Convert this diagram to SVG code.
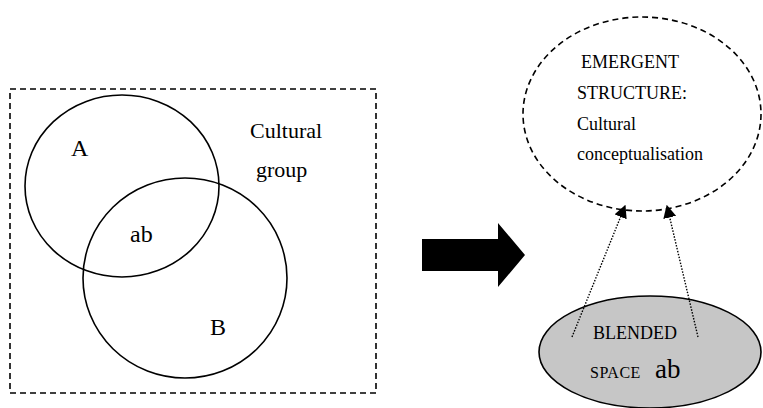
<svg xmlns="http://www.w3.org/2000/svg" width="763" height="408" viewBox="0 0 763 408" font-family="'Liberation Serif', 'Times New Roman', 'DejaVu Serif', serif">
<defs>
<style>
text{font-family:'Liberation Serif','Times New Roman','DejaVu Serif',serif;fill:#000}
.solid{fill:none;stroke:#000;stroke-width:1.6}
.dash{fill:none;stroke:#000;stroke-width:1.6;stroke-dasharray:6 4}
.dot{fill:none;stroke:#000;stroke-width:1.4;stroke-dasharray:1.5 1.5}
</style>
<marker id="ah" viewBox="0 0 10 10" refX="9" refY="5" markerWidth="13" markerHeight="13" markerUnits="userSpaceOnUse" orient="auto">
<path d="M0,0 L10,5 L0,10 z" fill="#000"/>
</marker>
</defs>
<rect width="763" height="408" fill="#fff"/>
<g id="cultural-group">
<rect class="dash" x="10" y="89" width="366" height="304"/>
<text x="250" y="138" font-size="22">Cultural</text>
<text x="256" y="177" font-size="22">group</text>
</g>
<g id="circle-A">
<ellipse class="solid" cx="122" cy="186" rx="97" ry="91"/>
<text x="71" y="156" font-size="24">A</text>
</g>
<g id="circle-B">
<ellipse class="solid" cx="185" cy="278" rx="102" ry="100"/>
<text x="210" y="335" font-size="24">B</text>
</g>
<g id="overlap-ab">
<text x="130" y="242" font-size="24">ab</text>
</g>
<g id="big-arrow">
<path d="M422,239 L498,239 L498,223 L525,255 L498,287 L498,271 L422,271 z" fill="#000"/>
</g>
<g id="emergent-structure">
<ellipse class="dash" cx="642" cy="114" rx="119" ry="97"/>
<text x="581" y="68" font-size="18">EMERGENT</text>
<text x="577" y="99" font-size="18">STRUCTURE:</text>
<text x="577" y="130" font-size="18">Cultural</text>
<text x="577" y="160" font-size="18">conceptualisation</text>
</g>
<g id="blended-space">
<ellipse cx="650" cy="352" rx="111" ry="56" fill="#c6c6c6" stroke="#000" stroke-width="1.6"/>
<text x="593" y="339" font-size="18">BLENDED</text>
<text x="590" y="378" font-size="16" letter-spacing="0.5">SPACE</text>
<text x="655" y="378" font-size="27">ab</text>
</g>
<g id="connectors">
<line class="dot" x1="572" y1="337" x2="625" y2="206" marker-end="url(#ah)"/>
<line class="dot" x1="698" y1="337" x2="667" y2="206" marker-end="url(#ah)"/>
</g>
</svg>
